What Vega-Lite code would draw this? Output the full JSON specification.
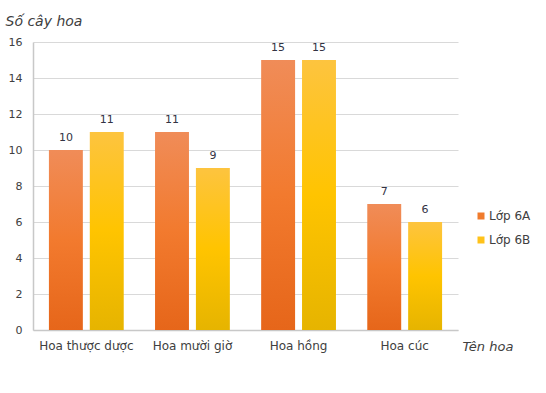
{
  "$schema": "https://vega.github.io/schema/vega-lite/v6.json",
  "autosize": "none",
  "width": 425,
  "height": 288,
  "padding": {"left": 33, "top": 42, "right": 88, "bottom": 63},
  "background": "white",
  "data": {
    "values": [
      {"hoa": "Hoa thược dược", "lop": "Lớp 6A", "so": 10},
      {"hoa": "Hoa thược dược", "lop": "Lớp 6B", "so": 11},
      {"hoa": "Hoa mười giờ", "lop": "Lớp 6A", "so": 11},
      {"hoa": "Hoa mười giờ", "lop": "Lớp 6B", "so": 9},
      {"hoa": "Hoa hồng", "lop": "Lớp 6A", "so": 15},
      {"hoa": "Hoa hồng", "lop": "Lớp 6B", "so": 15},
      {"hoa": "Hoa cúc", "lop": "Lớp 6A", "so": 7},
      {"hoa": "Hoa cúc", "lop": "Lớp 6B", "so": 6}
    ]
  },
  "encoding": {
    "x": {
      "field": "hoa", "type": "nominal", "sort": null,
      "scale": {"paddingInner": 0.295, "paddingOuter": 0.15},
      "axis": {
        "title": "Tên hoa", "titleFont": "DejaVu Sans", "titleFontSize": 13, "titleFontStyle": "italic",
        "titleFontWeight": "normal", "titleColor": "#404040", "titleAngle": 0,
        "titleX": 429, "titleY": 20, "titleAlign": "left", "titleBaseline": "alphabetic",
        "labelAngle": 0, "labelFont": "DejaVu Sans", "labelFontSize": 12, "labelColor": "#404040",
        "labelPadding": 10, "ticks": false, "domainColor": "#c8c8c8", "domainWidth": 1.5, "grid": false
      }
    },
    "xOffset": {"field": "lop", "type": "nominal", "scale": {"paddingInner": 0.17, "paddingOuter": 0}},
    "y": {
      "field": "so", "type": "quantitative",
      "scale": {"domain": [0, 16], "nice": false},
      "axis": {
        "title": "Số cây hoa", "titleFont": "DejaVu Sans", "titleFontSize": 14, "titleFontStyle": "italic",
        "titleFontWeight": "normal", "titleColor": "#404040", "titleAngle": 0,
        "titleX": -28, "titleY": -17, "titleAlign": "left", "titleBaseline": "alphabetic",
        "values": [0, 2, 4, 6, 8, 10, 12, 14, 16], "ticks": false,
        "labelFont": "DejaVu Sans", "labelFontSize": 11, "labelColor": "#404040", "labelPadding": 11,
        "domainColor": "#c8c8c8", "domainWidth": 1.5, "gridColor": "#d9d9d9"
      }
    }
  },
  "layer": [
    {
      "mark": {"type": "bar"},
      "encoding": {
        "color": {
          "condition": [
            {"test": "datum.lop === 'Lớp 6A'", "value": {"gradient": "linear", "x1": 0, "y1": 0, "x2": 0, "y2": 1,
              "stops": [{"offset": 0, "color": "#f08c58"}, {"offset": 0.5, "color": "#f27a2e"}, {"offset": 1, "color": "#e6661a"}]}},
            {"test": "datum.lop === 'Lớp 6B'", "value": {"gradient": "linear", "x1": 0, "y1": 0, "x2": 0, "y2": 1,
              "stops": [{"offset": 0, "color": "#fdc43f"}, {"offset": 0.5, "color": "#ffc400"}, {"offset": 1, "color": "#e6b400"}]}}
          ],
          "field": "lop", "type": "nominal",
          "scale": {"domain": ["Lớp 6A", "Lớp 6B"], "range": ["#f07b2c", "#ffc21a"]},
          "legend": {
            "title": null, "orient": "none", "legendX": 442, "legendY": 168,
            "symbolType": "square", "symbolSize": 49, "symbolStrokeWidth": 0,
            "labelFont": "DejaVu Sans", "labelFontSize": 12, "labelColor": "#404040",
            "rowPadding": 12, "labelOffset": 2
          }
        }
      }
    },
    {
      "mark": {"type": "text", "baseline": "alphabetic", "dy": -9, "font": "DejaVu Sans", "fontSize": 11, "color": "#333344"},
      "encoding": {"text": {"field": "so", "type": "quantitative"}}
    }
  ],
  "config": {"view": {"stroke": null}}
}
